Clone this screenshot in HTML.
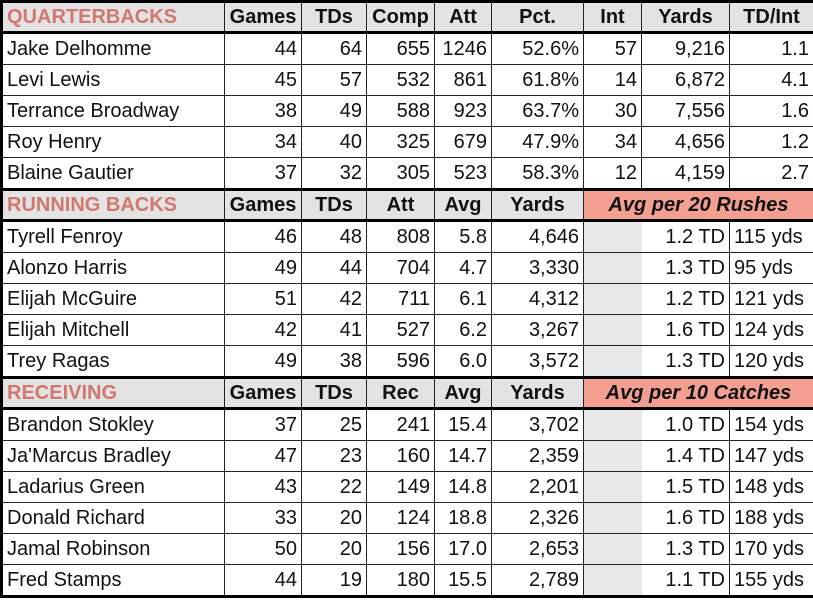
<!DOCTYPE html>
<html><head><style>
html,body{margin:0;padding:0;background:#fff;overflow:hidden;}
table{border-collapse:collapse;width:813px;table-layout:fixed;font-family:"Liberation Sans",sans-serif;font-size:20px;color:#111;border:3px solid #000;}
td{border:1.5px solid #222;padding:0 4px;white-space:nowrap;overflow:hidden;text-align:right;height:30px;line-height:20px;}
td.n{text-align:left;}
tr.h td{background:#e3e3e3;font-weight:bold;text-align:center;height:28px;border-bottom:3px solid #000;border-top:3px solid #000;}
tr.h td.t{color:#d2776e;text-align:left;}
tr.h td.s{background:#f29f91;font-style:italic;}
td.g{background:#e8e8e8;}
</style></head><body>
<table>
<colgroup><col style="width:223px"><col style="width:77px"><col style="width:65px"><col style="width:68px"><col style="width:57px"><col style="width:92px"><col style="width:58px"><col style="width:88px"><col style="width:85px"></colgroup>
<tr class="h"><td class="t">QUARTERBACKS</td><td>Games</td><td>TDs</td><td>Comp</td><td>Att</td><td>Pct.</td><td>Int</td><td>Yards</td><td>TD/Int</td></tr>
<tr><td class="n">Jake Delhomme</td><td>44</td><td>64</td><td>655</td><td>1246</td><td>52.6%</td><td>57</td><td>9,216</td><td>1.1</td></tr>
<tr><td class="n">Levi Lewis</td><td>45</td><td>57</td><td>532</td><td>861</td><td>61.8%</td><td>14</td><td>6,872</td><td>4.1</td></tr>
<tr><td class="n">Terrance Broadway</td><td>38</td><td>49</td><td>588</td><td>923</td><td>63.7%</td><td>30</td><td>7,556</td><td>1.6</td></tr>
<tr><td class="n">Roy Henry</td><td>34</td><td>40</td><td>325</td><td>679</td><td>47.9%</td><td>34</td><td>4,656</td><td>1.2</td></tr>
<tr><td class="n">Blaine Gautier</td><td>37</td><td>32</td><td>305</td><td>523</td><td>58.3%</td><td>12</td><td>4,159</td><td>2.7</td></tr>
<tr class="h"><td class="t">RUNNING BACKS</td><td>Games</td><td>TDs</td><td>Att</td><td>Avg</td><td>Yards</td><td class="s" colspan="3">Avg per 20 Rushes</td></tr>
<tr><td class="n">Tyrell Fenroy</td><td>46</td><td>48</td><td>808</td><td>5.8</td><td>4,646</td><td class="g" style="border-right:none"></td><td style="border-left:none">1.2 TD</td><td class="n">115 yds</td></tr>
<tr><td class="n">Alonzo Harris</td><td>49</td><td>44</td><td>704</td><td>4.7</td><td>3,330</td><td class="g" style="border-right:none"></td><td style="border-left:none">1.3 TD</td><td class="n">95 yds</td></tr>
<tr><td class="n">Elijah McGuire</td><td>51</td><td>42</td><td>711</td><td>6.1</td><td>4,312</td><td class="g" style="border-right:none"></td><td style="border-left:none">1.2 TD</td><td class="n">121 yds</td></tr>
<tr><td class="n">Elijah Mitchell</td><td>42</td><td>41</td><td>527</td><td>6.2</td><td>3,267</td><td class="g" style="border-right:none"></td><td style="border-left:none">1.6 TD</td><td class="n">124 yds</td></tr>
<tr><td class="n">Trey Ragas</td><td>49</td><td>38</td><td>596</td><td>6.0</td><td>3,572</td><td class="g" style="border-right:none"></td><td style="border-left:none">1.3 TD</td><td class="n">120 yds</td></tr>
<tr class="h"><td class="t">RECEIVING</td><td>Games</td><td>TDs</td><td>Rec</td><td>Avg</td><td>Yards</td><td class="s" colspan="3">Avg per 10 Catches</td></tr>
<tr><td class="n">Brandon Stokley</td><td>37</td><td>25</td><td>241</td><td>15.4</td><td>3,702</td><td class="g" style="border-right:none"></td><td style="border-left:none">1.0 TD</td><td class="n">154 yds</td></tr>
<tr><td class="n">Ja'Marcus Bradley</td><td>47</td><td>23</td><td>160</td><td>14.7</td><td>2,359</td><td class="g" style="border-right:none"></td><td style="border-left:none">1.4 TD</td><td class="n">147 yds</td></tr>
<tr><td class="n">Ladarius Green</td><td>43</td><td>22</td><td>149</td><td>14.8</td><td>2,201</td><td class="g" style="border-right:none"></td><td style="border-left:none">1.5 TD</td><td class="n">148 yds</td></tr>
<tr><td class="n">Donald Richard</td><td>33</td><td>20</td><td>124</td><td>18.8</td><td>2,326</td><td class="g" style="border-right:none"></td><td style="border-left:none">1.6 TD</td><td class="n">188 yds</td></tr>
<tr><td class="n">Jamal Robinson</td><td>50</td><td>20</td><td>156</td><td>17.0</td><td>2,653</td><td class="g" style="border-right:none"></td><td style="border-left:none">1.3 TD</td><td class="n">170 yds</td></tr>
<tr><td class="n">Fred Stamps</td><td>44</td><td>19</td><td>180</td><td>15.5</td><td>2,789</td><td class="g" style="border-right:none"></td><td style="border-left:none">1.1 TD</td><td class="n">155 yds</td></tr>
</table>
</body></html>
